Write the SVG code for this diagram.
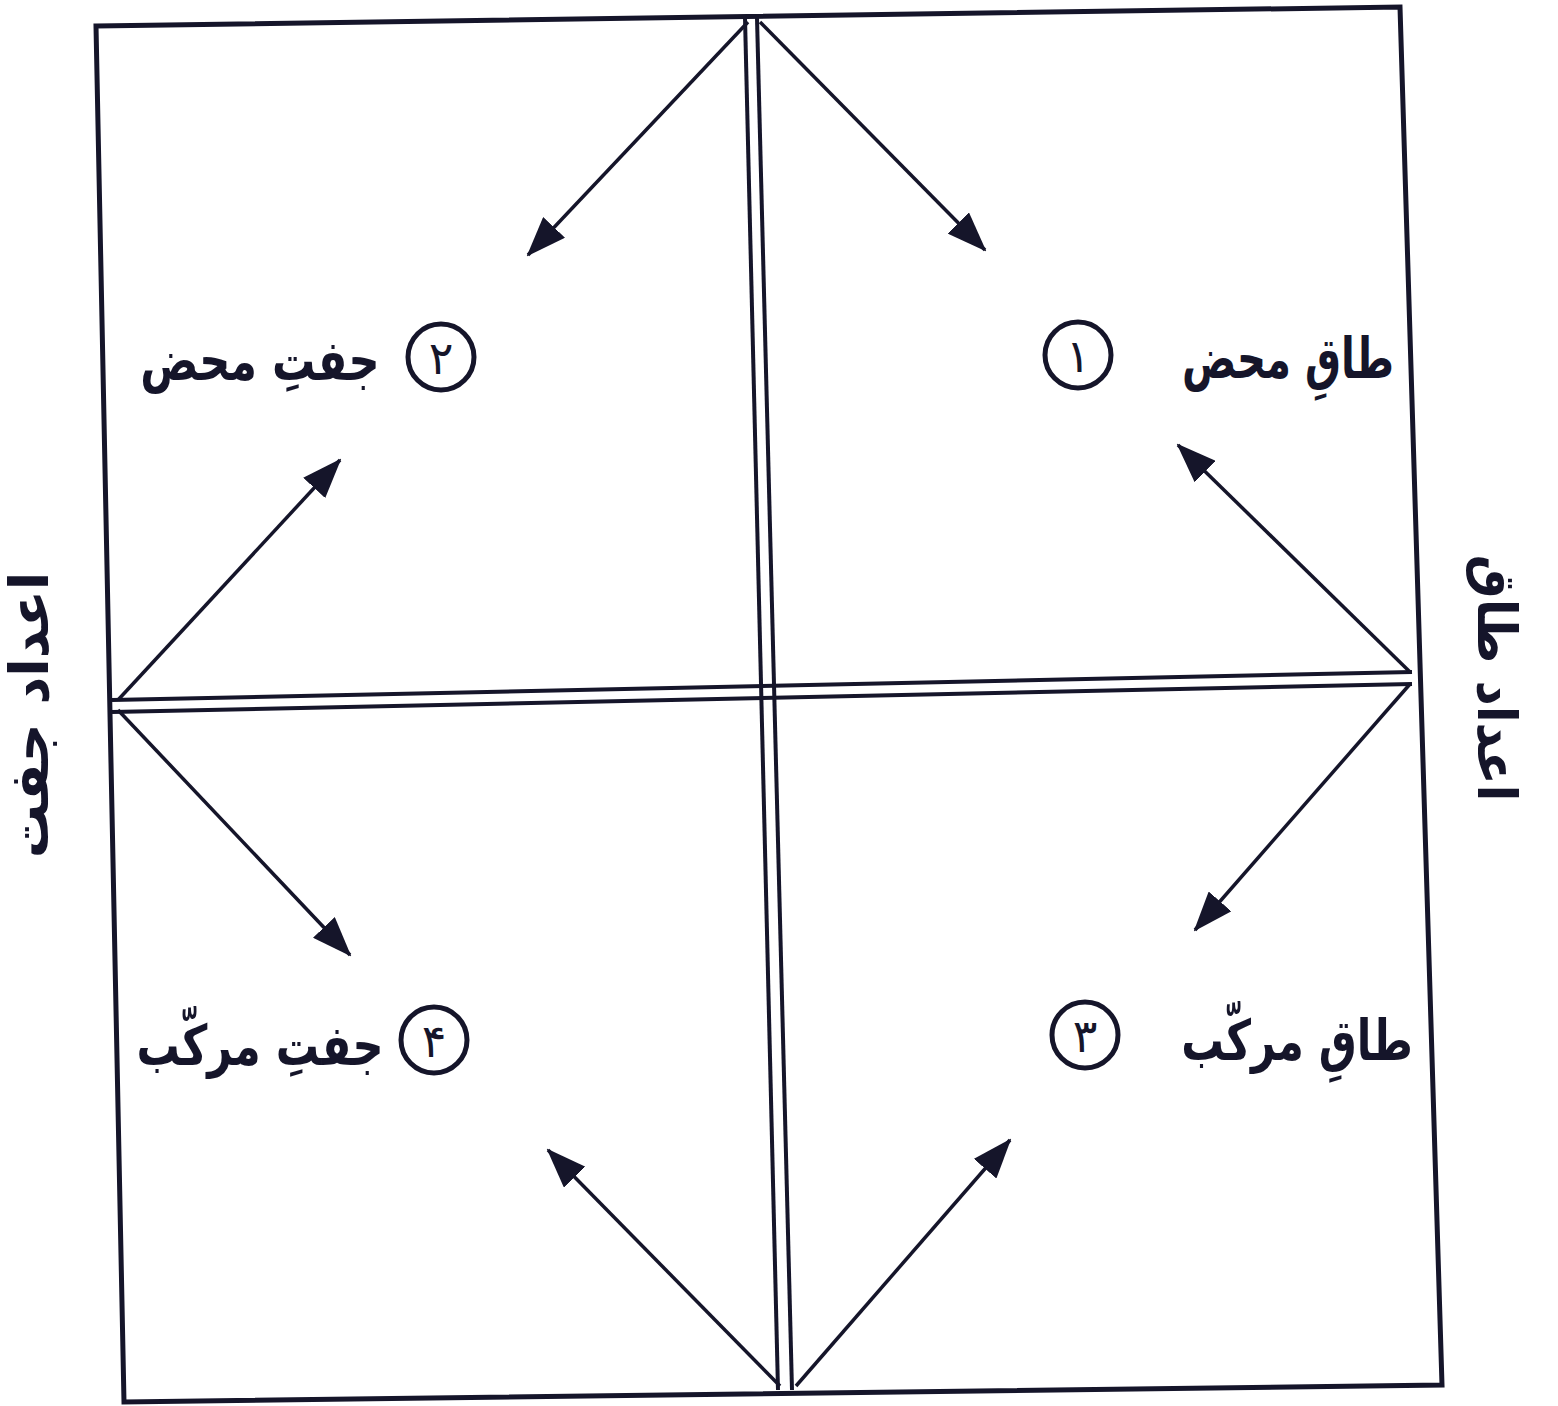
<svg xmlns="http://www.w3.org/2000/svg" width="1558" height="1406" viewBox="0 0 1558 1406">
<style>
.frame{fill:none;stroke:#15152a;stroke-width:5;stroke-linejoin:miter}
.div{fill:none;stroke:#15152a;stroke-width:4}
.arr{fill:none;stroke:#15152a;stroke-width:3.5}
.circ{fill:none;stroke:#15152a;stroke-width:5}
.lbl{font-family:"DejaVu Sans",sans-serif;font-weight:bold;fill:#15152a;font-size:56px}
.num{font-family:"DejaVu Sans",sans-serif;fill:#15152a;font-size:46px}
.side{font-family:"DejaVu Sans",sans-serif;font-weight:bold;fill:#15152a;font-size:54px}
</style>
<defs>
<marker id="ah" viewBox="0 0 40 30" refX="38" refY="15" markerWidth="40" markerHeight="30" markerUnits="userSpaceOnUse" orient="auto">
<path d="M0,0 L40,15 L0,30 Z" fill="#15152a"/>
</marker>
</defs>
<rect width="1558" height="1406" fill="#ffffff"/>
<g id="frame">
<polygon class="frame" points="96,26 1400,7 1442,1385 124,1402"/>
<line class="div" x1="745" y1="18" x2="778" y2="1390"/>
<line class="div" x1="757" y1="18" x2="792" y2="1390"/>
<line class="div" x1="112" y1="700" x2="1412" y2="672"/>
<line class="div" x1="112" y1="712" x2="1412" y2="684"/>
</g>
<g id="connectors">
<line class="arr" x1="748" y1="22" x2="528" y2="255" marker-end="url(#ah)"/>
<line class="arr" x1="760" y1="22" x2="985" y2="250" marker-end="url(#ah)"/>
<line class="arr" x1="118" y1="700" x2="340" y2="460" marker-end="url(#ah)"/>
<line class="arr" x1="118" y1="710" x2="350" y2="955" marker-end="url(#ah)"/>
<line class="arr" x1="1410" y1="672" x2="1178" y2="445" marker-end="url(#ah)"/>
<line class="arr" x1="1410" y1="684" x2="1195" y2="930" marker-end="url(#ah)"/>
<line class="arr" x1="780" y1="1386" x2="548" y2="1150" marker-end="url(#ah)"/>
<line class="arr" x1="796" y1="1386" x2="1010" y2="1140" marker-end="url(#ah)"/>
</g>
<g id="node1">
<circle class="circ" cx="1078" cy="355" r="33"/>
<text class="num" x="1078" y="372" text-anchor="middle">۱</text>
<text class="lbl" transform="translate(1288,378) scale(0.72,1)" text-anchor="middle">طاقِ محض</text>
</g>
<g id="node2">
<circle class="circ" cx="441" cy="357" r="33"/>
<text class="num" x="441" y="374" text-anchor="middle">۲</text>
<text class="lbl" transform="translate(260,380) scale(0.77,1)" text-anchor="middle">جفتِ محض</text>
</g>
<g id="node3">
<circle class="circ" cx="1085" cy="1035" r="33"/>
<text class="num" x="1085" y="1052" text-anchor="middle">۳</text>
<text class="lbl" transform="translate(1297,1060) scale(0.76,1)" text-anchor="middle">طاقِ مرکّب</text>
</g>
<g id="node4">
<circle class="circ" cx="434" cy="1040" r="33"/>
<text class="num" x="434" y="1057" text-anchor="middle">۴</text>
<text class="lbl" transform="translate(260,1065) scale(0.77,1)" text-anchor="middle">جفتِ مرکّب</text>
</g>
<g id="side-right">
<text class="side" transform="translate(1478,678) rotate(90) scale(0.91,1)" text-anchor="middle">اعداد طاق</text>
</g>
<g id="side-left">
<text class="side" transform="translate(48,715) rotate(-90)" text-anchor="middle">اعداد جفت</text>
</g>
</svg>
